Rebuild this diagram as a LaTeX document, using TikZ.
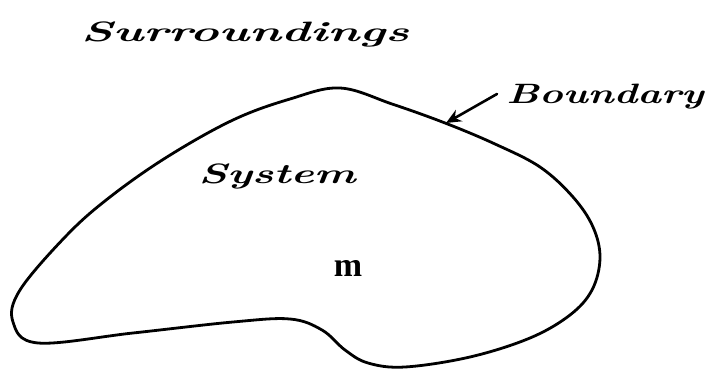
\documentclass[tikz,border=0pt]{standalone}
\usepackage{fontspec}
\newfontfamily\timesfont{Liberation Serif}
\usetikzlibrary{arrows.meta}

\begin{document}
\begin{tikzpicture}[x=1pt, y=-1pt, line width=2.8pt, line cap=round, line join=round,
    hand/.style={font=\fontsize{28}{28}\selectfont\bfseries\itshape, inner sep=0pt}]
    \useasboundingbox (0,0) rectangle (707,371);

    % contour of the system (closed boundary)
    \draw[black] plot[smooth cycle, tension=0.6] coordinates {
        (340,88) (392,104) (445,123) (495,144) (540,167) (573,197) (593,227)
        (600,258) (592,290) (570,315) (530,338) (470,357) (405,367)
        (368,363) (345,350) (322,330) (290,319) (233,322) (133,333) (38,343)
        (13,322) (20,290) (67,235) (110,197) (167,157) (233,120) (290,99)};

    % point on the boundary where the arrow ends
    \coordinate (bdpt) at (446,123);

    % labels
    \node[hand] (surr) at (245,34) {\scalebox{1.75}[1]{Surroundings}};
    \node[hand] (bound) at (605,97) {\scalebox{1.43}[1]{Boundary}};
    \node[hand] (sys) at (277,176) {\scalebox{1.58}[1]{System}};
    \node[font=\timesfont\bfseries\fontsize{34}{34}\selectfont, inner sep=0pt] (mass) at (348,268) {m};

    % arrow to the boundary
    \draw[-{Stealth[length=15pt, width=13pt]}, line width=2.6pt] (bound.west) ++(-8,-3) -- (bdpt);
\end{tikzpicture}
\end{document}
